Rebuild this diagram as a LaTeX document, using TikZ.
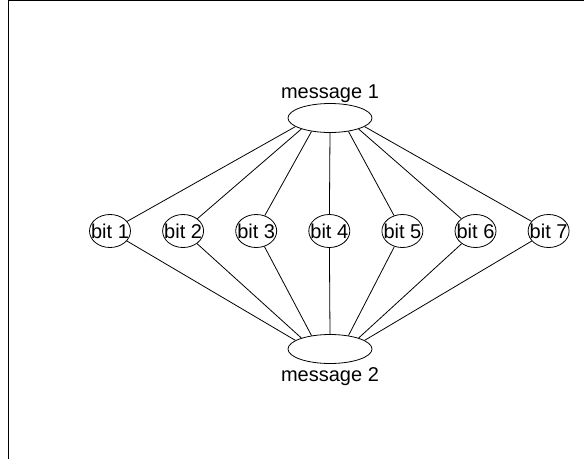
\documentclass[tikz,border=0pt]{standalone}
\usepackage{fontspec}
\setmainfont{Liberation Sans}
\usetikzlibrary{shapes.geometric}

\begin{document}
\begin{tikzpicture}[x=1pt,y=-1pt,
    font=\fontsize{20}{24}\selectfont,
    msg/.style={draw, ellipse, minimum width=84pt, minimum height=29pt, inner sep=0pt, line width=0.8pt},
    bitnode/.style={draw, ellipse, minimum width=41pt, minimum height=33pt, inner sep=0pt, line width=0.8pt},
    link/.style={line width=0.8pt}]
\useasboundingbox (0,0) rectangle (584,459);
% frame
\draw[line width=1pt] (8,459) -- (8,0.5) -- (584,0.5);

% messages
\node[msg, label={[label distance=-3pt]above:message 1}] (m1) at (330,118) {};
\node[msg, label=below:message 2] (m2) at (330,349) {};

% bits, each tied to both messages
\foreach \i/\a in {1/194, 2/201, 3/216, 4/270, 5/324, 6/339, 7/346} {
    \pgfmathsetmacro{\x}{110+73.1*(\i-1)}
    \pgfmathtruncatemacro{\b}{360-\a}
    \node[bitnode, label=center:bit \i] (b\i) at (\x,231) {};
    \draw[link] (m1.\a) -- (b\i);
    \draw[link] (m2.\b) -- (b\i);
}
\end{tikzpicture}
\end{document}
